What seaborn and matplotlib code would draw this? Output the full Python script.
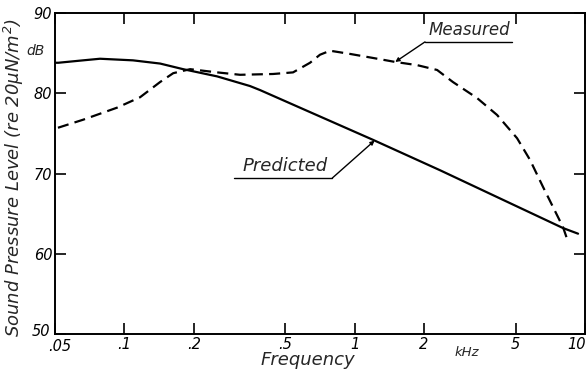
import matplotlib
matplotlib.use("Agg")
import matplotlib.pyplot as plt
import seaborn as sns
import pandas as pd
from matplotlib.lines import Line2D
from matplotlib.transforms import ScaledTranslation

# ---- data ----
pred_freq = [0.05, 0.0517, 0.0662, 0.0784, 0.109, 0.143, 0.180, 0.253, 0.351, 0.388,
             0.579, 1.20, 2.35, 4.73, 8.03, 9.33]
pred_spl = [83.8, 83.8, 84.1, 84.3, 84.1, 83.7, 83.0, 82.1, 80.9, 80.4,
            78.2, 74.2, 70.4, 66.3, 63.2, 62.5]

meas_freq = [0.0515, 0.0662, 0.0929, 0.117, 0.143, 0.163, 0.193, 0.253, 0.318, 0.442,
             0.540, 0.640, 0.707, 0.782, 0.955, 1.20, 1.50, 1.87, 2.28, 2.67,
             3.40, 4.15, 5.07, 5.77, 6.58, 7.27, 8.03, 8.44]
meas_spl = [75.7, 76.7, 78.2, 79.5, 81.4, 82.5, 83.0, 82.6, 82.3, 82.4,
            82.6, 83.8, 84.8, 85.3, 84.9, 84.4, 83.9, 83.5, 82.9, 81.4,
            79.4, 77.3, 74.4, 71.7, 68.3, 65.8, 63.3, 61.5]

xticks = [0.05, 0.1, 0.2, 0.5, 1, 2, 5, 10]
xticklabels = [".05", ".1", ".2", ".5", "1", "2", "5", "10"]
yticks = [50, 60, 70, 80, 90]

df = pd.concat([
    pd.DataFrame({"freq": pred_freq, "spl": pred_spl, "series": "Predicted"}),
    pd.DataFrame({"freq": meas_freq, "spl": meas_spl, "series": "Measured"}),
], ignore_index=True)

sns.set_theme(style="white")
plt.rcParams["font.family"] = ["DejaVu Sans"]
plt.rcParams["font.style"] = "italic"
plt.rcParams["mathtext.default"] = "it"

fig = plt.figure(figsize=(5.87, 3.73), dpi=100)
ax = fig.add_axes([55/587, 1-334/373, 530/587, 321/373])

sns.lineplot(data=df, x="freq", y="spl", hue="series", style="series",
             palette={"Predicted": "black", "Measured": "black"},
             dashes={"Predicted": "", "Measured": (5.0, 2.8)},
             linewidth=1.6, legend=False, ax=ax, sort=False)
for ln in ax.get_lines():
    ln.set_solid_joinstyle("round")
    ln.set_dash_joinstyle("round")

ax.set_xscale("log")
ax.set_xlim(0.05, 10)
ax.set_ylim(50, 90)
ax.set_xticks(xticks)
ax.set_xticklabels(xticklabels)
ax.minorticks_off()
ax.set_yticks(yticks)
ax.tick_params(axis="both", direction="in", length=8, width=1.2, colors="black",
               labelsize=10.5, top=True, right=True, bottom=True, left=True, pad=2)
for lab in ax.get_xticklabels() + ax.get_yticklabels():
    lab.set_fontstyle("italic")
# nudge the corner labels, as in the reference
first_x = ax.get_xticklabels()[0]
first_x.set_transform(first_x.get_transform() + ScaledTranslation(0.05, -0.02, fig.dpi_scale_trans))
last_x = ax.get_xticklabels()[-1]
last_x.set_transform(last_x.get_transform() + ScaledTranslation(-0.08, 0, fig.dpi_scale_trans))
first_y = ax.get_yticklabels()[0]
first_y.set_transform(first_y.get_transform() + ScaledTranslation(-0.02, 0.04, fig.dpi_scale_trans))
for sp in ax.spines.values():
    sp.set_color("black")
    sp.set_linewidth(1.4)

ax.set_xlabel("Frequency", fontsize=13, style="italic")
ax.xaxis.set_label_coords(0.477, -0.052)
ax.set_ylabel(r"Sound Pressure Level $(re\ 20\mu N/m^2)$", fontsize=13, style="italic")
ax.yaxis.set_label_coords(-0.054, 0.488)
fig.text(35/587, 1-51/373, "dB", fontsize=10, style="italic", ha="center", va="center")
fig.text(467/587, 1-352/373, "kHz", fontsize=9.5, style="italic", ha="center", va="center")

# annotations
ax.text(3.14, 86.75, "Measured", fontsize=12, style="italic", ha="center", va="bottom")
ax.add_line(Line2D([2.02, 4.82], [86.4, 86.4], color="black", lw=1.0))
ax.annotate("", xy=(1.50, 83.9), xytext=(2.02, 86.4),
            arrowprops=dict(arrowstyle="-|>", color="black", lw=1.0, mutation_scale=6,
                            shrinkA=0, shrinkB=0))

ax.text(0.50, 69.8, "Predicted", fontsize=13, style="italic", ha="center", va="bottom")
ax.add_line(Line2D([0.300, 0.80], [69.44, 69.44], color="black", lw=1.0))
ax.annotate("", xy=(1.22, 74.1), xytext=(0.80, 69.44),
            arrowprops=dict(arrowstyle="-|>", color="black", lw=1.0, mutation_scale=6,
                            shrinkA=0, shrinkB=0))

fig.savefig("out.png", dpi=100)
